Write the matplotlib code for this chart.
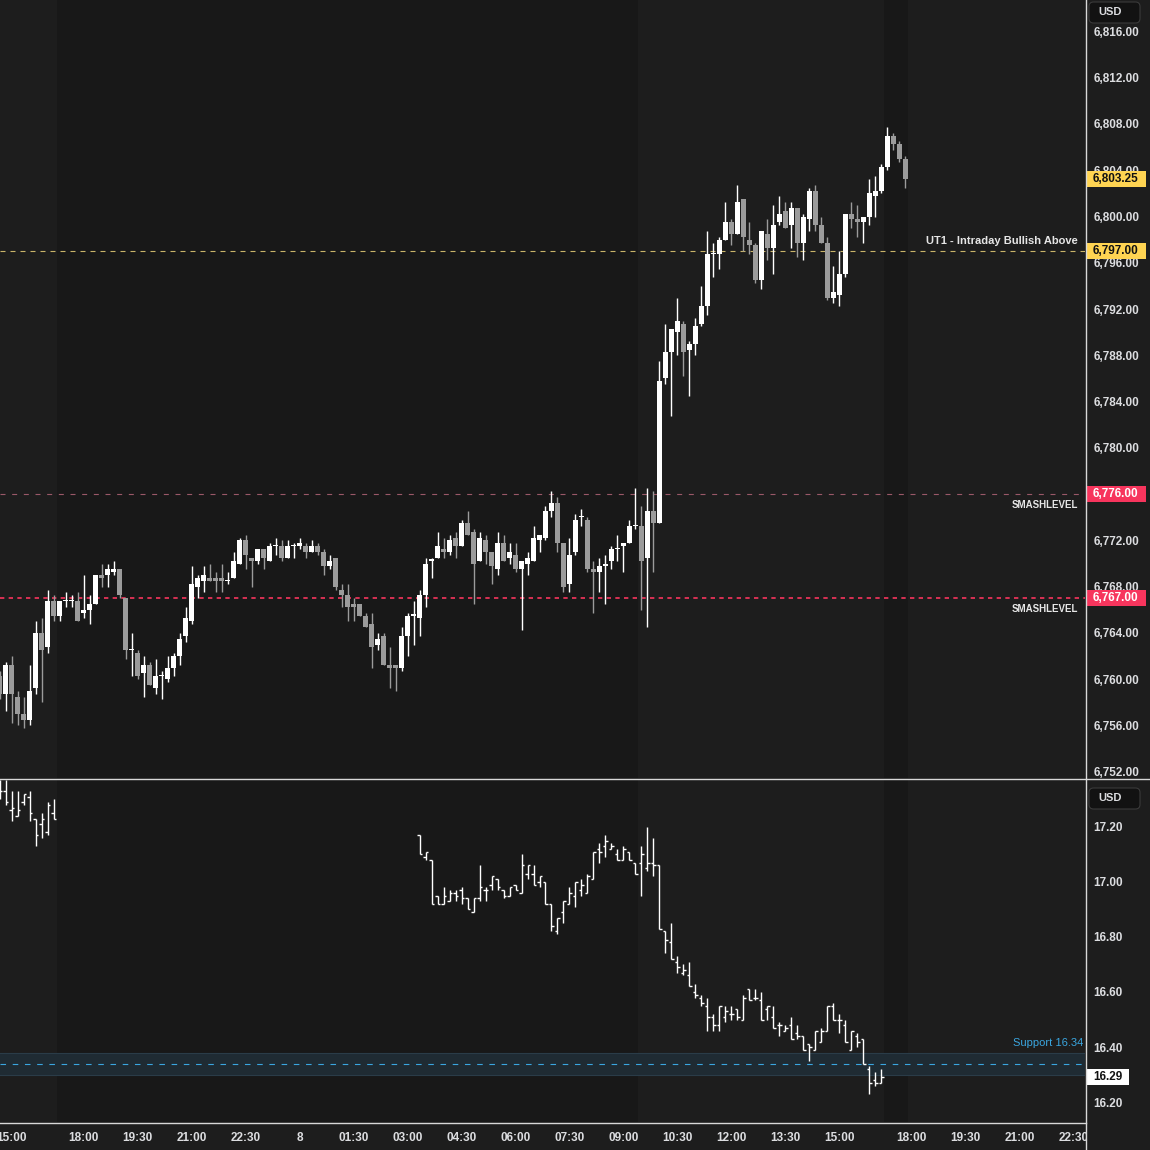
import numpy as np
import pandas as pd
import matplotlib.pyplot as plt
from matplotlib.patches import Rectangle, FancyBboxPatch
from matplotlib.lines import Line2D
from matplotlib.transforms import blended_transform_factory

plt.rcParams['font.family'] = ['Liberation Sans', 'DejaVu Sans']
plt.rcParams['font.weight'] = 'bold'

# ES 10 minute candles, first bar 2025-10-07 14:40
es_start = '2025-10-07 14:40'
es_open = [6760.25, 6758.75, 6761.25, 6758.5, 6757.0, 6756.5, 6759.25, 6764.0, 6762.75, 6766.75,
           6765.5, 6766.75, 6766.75, 6766.75, 6765.75, 6766.0, 6766.5, 6769.0, 6769.0, 6769.25,
           6769.5, 6767.0, 6762.5, 6762.25, 6760.5, 6761.25, 6759.25, 6760.25, 6760.0, 6761.0,
           6762.0, 6763.75, 6765.0, 6768.0, 6768.5, 6768.75, 6768.75, 6768.75, 6768.5, 6768.75,
           6770.0, 6772.0, 6770.5, 6770.25, 6771.25, 6770.25, 6771.5, 6771.5, 6770.5, 6771.5,
           6771.5, 6771.5, 6771.0, 6771.5, 6771.0, 6769.75, 6770.5, 6767.75, 6767.25, 6766.5,
           6766.5, 6765.5, 6764.75, 6763.0, 6763.75, 6761.25, 6761.25, 6761.0, 6763.75, 6765.5,
           6765.25, 6767.25, 6770.25, 6770.5, 6771.25, 6771.0, 6772.25, 6771.5, 6773.5, 6772.75,
           6770.25, 6772.0, 6771.0, 6769.5, 6771.75, 6770.5, 6770.75, 6769.5, 6770.0, 6770.25,
           6772.0, 6772.25, 6774.5, 6775.25, 6771.75, 6768.25, 6771.0, 6774.0, 6773.75, 6769.5,
           6769.25, 6769.75, 6770.25, 6771.25, 6771.5, 6771.75, 6773.25, 6773.25, 6770.5, 6774.5,
           6773.5, 6786.0, 6788.25, 6790.0, 6790.75, 6788.5, 6789.0, 6790.75, 6792.25, 6796.75,
           6796.75, 6798.0, 6799.5, 6798.5, 6801.5, 6798.0, 6797.5, 6794.5, 6798.5, 6797.25,
           6799.5, 6800.5, 6799.25, 6800.75, 6797.75, 6799.75, 6802.25, 6799.25, 6797.75, 6793.0,
           6793.25, 6795.0, 6800.25, 6799.75, 6799.5, 6800.0, 6801.75, 6802.25, 6804.25, 6807.0,
           6806.25, 6805.0]
es_high = [6760.75, 6761.5, 6762.0, 6759.0, 6758.5, 6761.25, 6765.0, 6765.25, 6767.75, 6767.25,
           6766.75, 6767.5, 6767.25, 6767.5, 6769.0, 6767.25, 6769.0, 6770.0, 6770.0, 6770.25,
           6769.5, 6767.0, 6764.0, 6762.5, 6762.0, 6761.5, 6761.75, 6760.75, 6762.0, 6762.25,
           6764.0, 6766.25, 6769.75, 6769.0, 6769.75, 6770.0, 6769.25, 6770.0, 6769.25, 6771.0,
           6772.25, 6772.5, 6770.5, 6771.25, 6771.25, 6771.75, 6772.25, 6772.0, 6772.0, 6771.75,
           6772.25, 6771.75, 6772.0, 6771.75, 6771.25, 6770.75, 6770.5, 6768.25, 6768.25, 6767.0,
           6766.5, 6765.75, 6765.75, 6764.0, 6764.0, 6762.75, 6761.25, 6764.5, 6765.75, 6766.75,
           6767.75, 6770.5, 6770.5, 6772.75, 6772.25, 6772.5, 6772.75, 6773.75, 6774.5, 6773.0,
           6772.75, 6772.5, 6771.0, 6772.75, 6772.5, 6771.75, 6771.75, 6770.25, 6771.0, 6773.25,
           6772.5, 6775.0, 6776.25, 6775.75, 6771.75, 6772.25, 6774.25, 6774.75, 6774.0, 6770.25,
           6770.5, 6770.75, 6771.5, 6772.5, 6771.75, 6773.75, 6776.5, 6775.0, 6776.5, 6776.25,
           6787.5, 6790.75, 6790.25, 6793.0, 6791.0, 6789.25, 6791.25, 6794.0, 6798.75, 6797.75,
           6798.25, 6801.25, 6799.75, 6802.75, 6801.5, 6799.5, 6797.75, 6798.75, 6799.75, 6801.0,
           6801.75, 6801.25, 6801.25, 6800.75, 6800.25, 6802.5, 6802.75, 6800.0, 6798.25, 6795.75,
           6797.0, 6800.25, 6801.25, 6801.0, 6800.0, 6803.25, 6803.5, 6804.5, 6807.75, 6807.25,
           6806.5, 6805.25]
es_low = [6758.25, 6757.25, 6756.25, 6756.0, 6755.75, 6756.0, 6758.75, 6758.0, 6762.25, 6765.0,
          6765.0, 6766.25, 6766.25, 6765.0, 6765.25, 6764.75, 6766.5, 6768.0, 6768.0, 6769.0,
          6767.0, 6761.75, 6760.25, 6760.0, 6758.5, 6759.5, 6758.75, 6758.25, 6759.75, 6760.25,
          6761.25, 6763.25, 6764.75, 6767.0, 6767.5, 6768.5, 6767.5, 6767.5, 6768.25, 6768.75,
          6770.0, 6769.5, 6768.0, 6770.0, 6769.5, 6770.25, 6770.75, 6770.25, 6770.5, 6770.5,
          6771.25, 6770.5, 6771.0, 6770.75, 6769.0, 6769.5, 6767.75, 6766.25, 6765.0, 6765.0,
          6765.5, 6764.5, 6761.0, 6762.5, 6761.25, 6759.25, 6759.0, 6760.75, 6762.0, 6763.0,
          6763.75, 6766.25, 6768.75, 6770.5, 6770.5, 6770.75, 6770.5, 6771.5, 6772.5, 6766.5,
          6770.25, 6770.0, 6768.25, 6769.0, 6770.25, 6770.0, 6769.25, 6764.25, 6769.0, 6770.25,
          6771.0, 6772.0, 6774.0, 6771.0, 6767.5, 6767.5, 6770.75, 6773.25, 6769.25, 6765.75,
          6767.5, 6766.5, 6769.5, 6770.25, 6769.25, 6771.75, 6773.0, 6766.0, 6764.5, 6769.25,
          6773.5, 6785.5, 6782.75, 6788.0, 6786.25, 6784.5, 6788.0, 6790.5, 6791.5, 6794.75,
          6795.5, 6798.0, 6797.5, 6798.5, 6797.0, 6796.75, 6794.25, 6793.75, 6796.25, 6795.0,
          6799.25, 6799.0, 6797.25, 6796.5, 6796.25, 6798.75, 6798.75, 6797.75, 6792.75, 6792.5,
          6792.25, 6794.75, 6799.0, 6798.25, 6797.75, 6799.25, 6800.0, 6802.0, 6804.0, 6805.75,
          6804.75, 6802.5]
es_close = [6758.75, 6761.25, 6758.75, 6757.0, 6756.5, 6759.0, 6764.0, 6762.5, 6766.75, 6765.5,
            6766.75, 6766.75, 6766.75, 6765.0, 6766.0, 6766.5, 6769.0, 6768.75, 6769.5, 6769.5,
            6767.25, 6762.5, 6762.5, 6760.25, 6761.25, 6759.5, 6760.25, 6760.25, 6761.0, 6762.0,
            6763.5, 6765.25, 6768.25, 6768.75, 6769.0, 6768.5, 6768.5, 6768.5, 6768.5, 6770.25,
            6772.0, 6770.75, 6770.25, 6771.25, 6770.5, 6771.5, 6771.5, 6770.5, 6771.5, 6771.5,
            6771.75, 6771.0, 6771.5, 6771.0, 6769.75, 6770.25, 6768.0, 6767.25, 6766.25, 6766.25,
            6765.5, 6764.5, 6762.75, 6763.5, 6761.25, 6761.0, 6761.0, 6763.75, 6765.5, 6765.5,
            6767.25, 6770.0, 6770.25, 6771.5, 6771.0, 6772.0, 6771.5, 6773.5, 6772.5, 6770.0,
            6772.25, 6771.0, 6769.75, 6771.75, 6770.25, 6771.0, 6769.5, 6770.25, 6770.5, 6772.25,
            6772.5, 6774.5, 6775.25, 6771.75, 6768.0, 6770.75, 6773.75, 6774.0, 6769.5, 6769.25,
            6769.75, 6770.0, 6771.25, 6771.25, 6771.75, 6773.25, 6773.25, 6770.25, 6774.5, 6773.5,
            6785.75, 6788.25, 6790.25, 6791.0, 6788.25, 6789.0, 6790.5, 6792.25, 6796.75, 6796.75,
            6798.0, 6799.5, 6798.5, 6801.25, 6798.25, 6797.5, 6794.5, 6798.75, 6797.25, 6799.25,
            6800.25, 6799.0, 6800.75, 6797.75, 6800.0, 6802.25, 6799.25, 6797.75, 6793.0, 6793.5,
            6795.0, 6800.25, 6799.75, 6799.5, 6800.0, 6802.0, 6802.25, 6804.25, 6807.0, 6806.25,
            6805.0, 6803.25]

# lower pane instrument: two stretches of prints
vx_a_start = '2025-10-07 14:40'
vx_a_open = [17.33, 17.33, 17.26, 17.24, 17.29, 17.31, 17.23, 17.21, 17.18, 17.25]
vx_a_high = [17.37, 17.37, 17.33, 17.33, 17.32, 17.33, 17.23, 17.25, 17.29, 17.30]
vx_a_low = [17.30, 17.28, 17.22, 17.24, 17.28, 17.22, 17.13, 17.16, 17.17, 17.23]
vx_a_close = [17.33, 17.29, 17.27, 17.26, 17.32, 17.25, 17.17, 17.23, 17.28, 17.23]

vx_b_start = '2025-10-08 03:20'
vx_b_open = [17.17, 17.09, 17.08, 16.95, 16.92, 16.93, 16.96, 16.97, 16.94, 16.89,
             16.94, 16.97, 16.99, 17.01, 16.97, 16.95, 16.99, 16.96, 17.03, 17.03,
             17.00, 17.00, 16.92, 16.82, 16.89, 16.92, 16.95, 16.97, 16.96, 17.01,
             17.12, 17.13, 17.12, 17.10, 17.08, 17.11, 17.07, 17.07, 17.05, 17.07,
             17.06, 16.82, 16.78, 16.71, 16.67, 16.66, 16.60, 16.58, 16.55, 16.51,
             16.48, 16.51, 16.52, 16.54, 16.50, 16.61, 16.58, 16.57, 16.54, 16.51,
             16.48, 16.46, 16.48, 16.45, 16.44, 16.41, 16.39, 16.42, 16.46, 16.55,
             16.50, 16.48, 16.39, 16.44, 16.43, 16.32, 16.28, 16.27]
vx_b_high = [17.17, 17.11, 17.08, 16.95, 16.98, 16.97, 16.97, 16.98, 16.94, 16.94,
             17.06, 16.98, 17.02, 17.01, 16.97, 16.98, 16.99, 17.10, 17.06, 17.06,
             17.02, 17.00, 16.92, 16.87, 16.93, 16.98, 17.00, 17.01, 17.03, 17.11,
             17.14, 17.17, 17.14, 17.12, 17.13, 17.11, 17.07, 17.13, 17.20, 17.16,
             17.06, 16.82, 16.85, 16.73, 16.70, 16.71, 16.63, 16.59, 16.58, 16.52,
             16.55, 16.55, 16.55, 16.54, 16.59, 16.61, 16.61, 16.60, 16.55, 16.55,
             16.49, 16.48, 16.51, 16.48, 16.44, 16.41, 16.46, 16.47, 16.55, 16.56,
             16.52, 16.50, 16.46, 16.45, 16.43, 16.33, 16.31, 16.32]
vx_b_low = [17.10, 17.08, 16.92, 16.92, 16.92, 16.93, 16.93, 16.92, 16.90, 16.89,
            16.93, 16.93, 16.97, 16.97, 16.94, 16.95, 16.97, 16.96, 17.01, 16.99,
            16.98, 16.92, 16.82, 16.81, 16.85, 16.92, 16.91, 16.95, 16.96, 17.01,
            17.07, 17.09, 17.12, 17.08, 17.08, 17.08, 17.03, 16.95, 17.04, 17.02,
            16.83, 16.74, 16.72, 16.67, 16.66, 16.62, 16.58, 16.55, 16.46, 16.46,
            16.46, 16.49, 16.50, 16.50, 16.50, 16.57, 16.57, 16.50, 16.50, 16.47,
            16.44, 16.46, 16.43, 16.43, 16.39, 16.35, 16.39, 16.42, 16.46, 16.50,
            16.45, 16.42, 16.39, 16.40, 16.34, 16.23, 16.26, 16.27]
vx_b_close = [17.10, 17.11, 16.92, 16.92, 16.95, 16.96, 16.95, 16.94, 16.90, 16.94,
              16.98, 16.97, 17.02, 16.98, 16.95, 16.98, 16.97, 17.06, 17.06, 16.99,
              17.02, 16.92, 16.84, 16.87, 16.93, 16.96, 17.00, 16.99, 17.02, 17.11,
              17.11, 17.15, 17.13, 17.08, 17.12, 17.08, 17.03, 17.10, 17.07, 17.06,
              16.83, 16.79, 16.72, 16.69, 16.68, 16.62, 16.59, 16.56, 16.51, 16.48,
              16.55, 16.53, 16.52, 16.51, 16.58, 16.57, 16.58, 16.50, 16.55, 16.47,
              16.48, 16.47, 16.43, 16.44, 16.39, 16.40, 16.46, 16.46, 16.55, 16.50,
              16.50, 16.42, 16.46, 16.42, 16.34, 16.27, 16.27, 16.29]

# horizontal levels
ut1_level = 6797.0
smash_levels = [6776.0, 6767.0]
support_level = 16.34
support_zone = (16.30, 16.38)

tick_times = ['2025-10-07 15:00', '2025-10-07 18:00', '2025-10-07 19:30', '2025-10-07 21:00',
              '2025-10-07 22:30', '2025-10-08 00:00', '2025-10-08 01:30', '2025-10-08 03:00',
              '2025-10-08 04:30', '2025-10-08 06:00', '2025-10-08 07:30', '2025-10-08 09:00',
              '2025-10-08 10:30', '2025-10-08 12:00', '2025-10-08 13:30', '2025-10-08 15:00',
              '2025-10-08 18:00', '2025-10-08 19:30', '2025-10-08 21:00', '2025-10-08 22:30']

BG = '#1d1d1d'
BG_ETH = '#181818'
UP = '#ffffff'
DOWN = '#9b9b9b'
TXT = '#dcdde0'
YEL = '#ffd452'
RED = '#f7355d'
BLUE = '#3aa6e0'

W = H = 1150.0
fig = plt.figure(figsize=(11.5, 11.5), dpi=100, facecolor=BG)


def fx(px):
    return px / W


def fy(py):
    return 1 - py / H


ax1 = fig.add_axes([0, fy(778), fx(1085), 778 / H])
ax2 = fig.add_axes([0, fy(1122), fx(1085), (1122 - 779) / H])

# 10 minute bar slots, the 17:00-18:00 break is skipped
grid = pd.date_range('2025-10-07 14:40', '2025-10-09 01:00', freq='10min')
grid = grid[grid.hour != 17]
slot = {t: i for i, t in enumerate(grid)}

n = len(es_open)
x0 = slot[pd.Timestamp(es_start)]
x = np.arange(x0, x0 + n)

# session shading (ETH darker)
tod = grid.hour * 60 + grid.minute
eth = np.array((tod < 9 * 60 + 30) | (tod >= 16 * 60 + 15))[x0:x0 + n]
runs = []
i = 0
while i < n:
    if eth[i]:
        j = i
        while j + 1 < n and eth[j + 1]:
            j += 1
        runs.append((x[i] - 0.5, x[j] + 0.5))
        i = j + 1
    else:
        i += 1

for ax in (ax1, ax2):
    ax.set_facecolor(BG)
    for a, b in runs:
        ax.axvspan(a, b, color=BG_ETH, lw=0, zorder=0)
    ax.set_xlim(0.08, 180.92)
    for s in ax.spines.values():
        s.set_visible(False)

# candles
o = np.array(es_open)
h = np.array(es_high)
l = np.array(es_low)
c = np.array(es_close)
col = np.where(c >= o, UP, DOWN)
ax1.vlines(x, l, h, colors=col, lw=1, zorder=3)
ax1.bar(x, np.maximum(np.abs(c - o), 0.1), bottom=np.minimum(o, c), width=0.82,
        color=col, lw=0, zorder=3)

ax1.set_ylim(6751.46, 6818.72)
ax1.set_xticks([])
ax1.yaxis.tick_right()
ax1.set_yticks(np.arange(6752, 6817, 4))
ax1.set_yticklabels([f'{v:,.2f}' for v in np.arange(6752, 6817, 4)])
ax1.tick_params(axis='y', length=0, pad=6.3, labelsize=8.5, labelcolor=TXT)

# levels
ax1.axhline(ut1_level, color='#c9b469', lw=0.8, ls=(0, (4.5, 4.5)), zorder=2)
ax1.axhline(smash_levels[0], color='#9a5868', lw=0.8, ls=(0, (4.5, 6)), zorder=2)
ax1.axhline(smash_levels[1], color=RED, lw=1.2, ls=(0, (2.6, 2.6)), zorder=2)
ax1.annotate('UT1 - Intraday Bullish Above', xy=(1078 / 1085, ut1_level),
             xycoords=('axes fraction', 'data'), textcoords='offset pixels', xytext=(0, 10),
             ha='right', va='center', fontsize=8, color='#e6e6e6', zorder=4)
for lv in smash_levels:
    ax1.annotate('SMASHLEVEL', xy=(1078 / 1085, lv), xycoords=('axes fraction', 'data'),
                 textcoords='offset pixels', xytext=(0, -11), ha='right', va='center',
                 fontsize=7, color='#e6e6e6', zorder=4)

# OHLC bars in the lower pane
for start, vo, vh, vl, vc in [(vx_a_start, vx_a_open, vx_a_high, vx_a_low, vx_a_close),
                              (vx_b_start, vx_b_open, vx_b_high, vx_b_low, vx_b_close)]:
    s = slot[pd.Timestamp(start)]
    xb = np.arange(s, s + len(vo))
    ax2.vlines(xb, vl, vh, color='white', lw=1, zorder=3)
    ax2.hlines(vo, xb - 0.42, xb, color='white', lw=1, zorder=3)
    ax2.hlines(vc, xb, xb + 0.42, color='white', lw=1, zorder=3)

ax2.axhspan(support_zone[0], support_zone[1], color='#1f2b33', lw=0, zorder=1)
ax2.axhline(support_zone[0], color='#2a3c48', lw=0.8, zorder=1)
ax2.axhline(support_zone[1], color='#2a3c48', lw=0.8, zorder=1)
ax2.axhline(support_level, color=BLUE, lw=0.8, ls=(0, (5, 6)), zorder=2)
ax2.annotate(f'Support {support_level:.2f}', xy=(1083 / 1085, support_level),
             xycoords=('axes fraction', 'data'), textcoords='offset pixels', xytext=(0, 21),
             ha='right', va='center', fontsize=8, fontweight='normal', color=BLUE, zorder=4)

ax2.set_ylim(16.1273, 17.3745)
ax2.yaxis.tick_right()
vt = np.arange(16.2, 17.21, 0.2)
ax2.set_yticks(vt)
ax2.set_yticklabels([f'{v:.2f}' for v in vt])
ax2.tick_params(axis='y', length=0, pad=6.3, labelsize=8.5, labelcolor=TXT)

tpos = [slot[pd.Timestamp(t)] for t in tick_times]
tlab = [str(pd.Timestamp(t).day) if pd.Timestamp(t).hour == 0 and pd.Timestamp(t).minute == 0
        else pd.Timestamp(t).strftime('%H:%M') for t in tick_times]
ax2.set_xticks(tpos)
ax2.set_xticklabels(tlab)
ax2.tick_params(axis='x', length=0, pad=7, labelsize=8.5, labelcolor=TXT)


# price tags on the scale
def tag(ax, val, text, fc, tc, half):
    tr = blended_transform_factory(fig.transFigure, ax.transData)
    ax.add_patch(Rectangle((fx(1086), val - half), fx(60), 2 * half, transform=tr,
                           facecolor=fc, edgecolor='none', clip_on=False, zorder=5))
    ax.text(fx(1093), val, text, transform=tr, ha='left', va='center', fontsize=8.5,
            color=tc, clip_on=False, zorder=6)


tag(ax1, es_close[-1], f'{es_close[-1]:,.2f}', YEL, '#111111', 0.69)
tag(ax1, ut1_level, f'{ut1_level:,.2f}', YEL, '#111111', 0.69)
for lv in smash_levels:
    tag(ax1, lv, f'{lv:,.2f}', RED, 'white', 0.69)
tr2 = blended_transform_factory(fig.transFigure, ax2.transData)
ax2.add_patch(Rectangle((fx(1086), vx_b_close[-1] - 0.029), fx(43), 0.058, transform=tr2,
                        facecolor='white', edgecolor='none', clip_on=False, zorder=5))
ax2.text(fx(1093), vx_b_close[-1], f'{vx_b_close[-1]:.2f}', transform=tr2, ha='left',
         va='center', fontsize=8.5, color='#111111', clip_on=False, zorder=6)

# frame lines and scale boxes
fig.add_artist(Rectangle((fx(1086), 0), fx(64), fy(1122), transform=fig.transFigure,
                         facecolor=BG, edgecolor='none', zorder=3))
fig.add_artist(Line2D([0, 1], [fy(778.5)] * 2, color='#d8d8d8', lw=1, zorder=4))
fig.add_artist(Line2D([0, fx(1085.5)], [fy(1122.5)] * 2, color='#d8d8d8', lw=1, zorder=4))
fig.add_artist(Line2D([fx(1085.5)] * 2, [0, 1], color='#d8d8d8', lw=1, zorder=4))
for ytop in (1, 787):
    fig.add_artist(FancyBboxPatch((fx(1089), fy(ytop + 22)), fx(51), 21 / H,
                                  boxstyle='round,pad=0,rounding_size=0.004',
                                  transform=fig.transFigure, facecolor='#121212',
                                  edgecolor='#3a3a3a', lw=0.8, zorder=7))
    fig.text(fx(1098), fy(ytop + 11), 'USD', ha='left', va='center', fontsize=8,
             color=TXT, zorder=8)

fig.savefig('out.png', dpi=100, facecolor=BG)
